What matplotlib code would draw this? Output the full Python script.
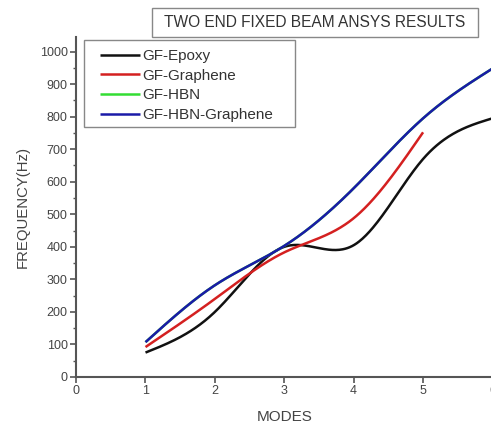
import numpy as np
import matplotlib
matplotlib.use("Agg")
import matplotlib.pyplot as plt
from matplotlib.ticker import MultipleLocator
from matplotlib.patches import Rectangle

modes = [1, 2, 3, 4, 5, 6]
gf_epoxy = [75, 200, 400, 405, 670, 795]
modes_graphene = [1, 2, 3, 4, 5]
gf_graphene = [92, 240, 383, 488, 752]
gf_hbn = [107, 282, 403, 580, 795, 948]
gf_hbn_graphene = [107, 282, 403, 580, 795, 948]

series_names = ["GF-Epoxy", "GF-Graphene", "GF-HBN", "GF-HBN-Graphene"]
series_colors = ["#111111", "#d42020", "#33dd33", "#1a1aa8"]


def natural_spline(x, y, n=300):
    x = np.asarray(x, float)
    y = np.asarray(y, float)
    k = len(x)
    h = np.diff(x)
    A = np.zeros((k, k))
    b = np.zeros(k)
    A[0, 0] = 1
    A[-1, -1] = 1
    for i in range(1, k - 1):
        A[i, i - 1] = h[i - 1]
        A[i, i] = 2 * (h[i - 1] + h[i])
        A[i, i + 1] = h[i]
        b[i] = 3 * ((y[i + 1] - y[i]) / h[i] - (y[i] - y[i - 1]) / h[i - 1])
    c = np.linalg.solve(A, b)
    xs = np.linspace(x[0], x[-1], n)
    ys = np.empty_like(xs)
    for j, xv in enumerate(xs):
        i = min(np.searchsorted(x, xv, side="right") - 1, k - 2)
        dx = xv - x[i]
        bi = (y[i + 1] - y[i]) / h[i] - h[i] * (2 * c[i] + c[i + 1]) / 3
        di = (c[i + 1] - c[i]) / (3 * h[i])
        ys[j] = y[i] + bi * dx + c[i] * dx ** 2 + di * dx ** 3
    return xs, ys


plt.rcParams["font.family"] = ["Liberation Sans", "DejaVu Sans"]
W, H = 491, 425
fig = plt.figure(figsize=(W / 100, H / 100), dpi=100)
ax = fig.add_axes([0.155, 0.113, 0.848, 0.800])

data = [(modes, gf_epoxy), (modes_graphene, gf_graphene), (modes, gf_hbn), (modes, gf_hbn_graphene)]
for (xv, yv), name, col in zip(data, series_names, series_colors):
    xs, ys = natural_spline(xv, yv)
    ax.plot(xs, ys, color=col, lw=1.8, label=name, solid_capstyle="butt")

ax.set_xlim(0, 6)
ax.set_ylim(0, 1045)
ax.xaxis.set_major_locator(MultipleLocator(1))
ax.yaxis.set_major_locator(MultipleLocator(100))
ax.yaxis.set_minor_locator(MultipleLocator(50))
for s in ["top", "right"]:
    ax.spines[s].set_visible(False)
for s in ["left", "bottom"]:
    ax.spines[s].set_color("#555555")
    ax.spines[s].set_linewidth(1.5)
ax.tick_params(axis="both", which="major", direction="out", length=4, width=1.2,
               color="#555555", labelsize=9, labelcolor="#444444", pad=2)
ax.tick_params(axis="y", which="minor", direction="out", length=2.5, width=1.0, color="#555555")
ax.set_xlabel("MODES", fontsize=11, color="#444444", labelpad=9)
ax.set_ylabel("FREQUENCY(Hz)", fontsize=10.7, color="#444444", labelpad=7)

leg = fig.legend(*ax.get_legend_handles_labels(), loc="upper left",
                 bbox_to_anchor=(100 / W, 1 - 49 / H), fontsize=11,
                 handlelength=2.6, handletextpad=0.15, labelspacing=0.37,
                 borderpad=0.0, borderaxespad=0.0, frameon=False)
for t in leg.get_texts():
    t.set_color("#333333")

# legend frame
fig.patches.append(Rectangle((84 / W, 1 - 127 / H), 211 / W, 87 / H, transform=fig.transFigure,
                             fill=False, ec="#888888", lw=1.0, zorder=3))
# title box
fig.patches.append(Rectangle((152 / W, 1 - 37 / H), 326 / W, 29 / H, transform=fig.transFigure,
                             fill=False, ec="#888888", lw=1.0, zorder=3))
fig.text(315 / W, 1 - 22.5 / H, "TWO END FIXED BEAM ANSYS RESULTS", ha="center", va="center",
         fontsize=11.2, color="#333333")

fig.savefig("out.png", dpi=100)
